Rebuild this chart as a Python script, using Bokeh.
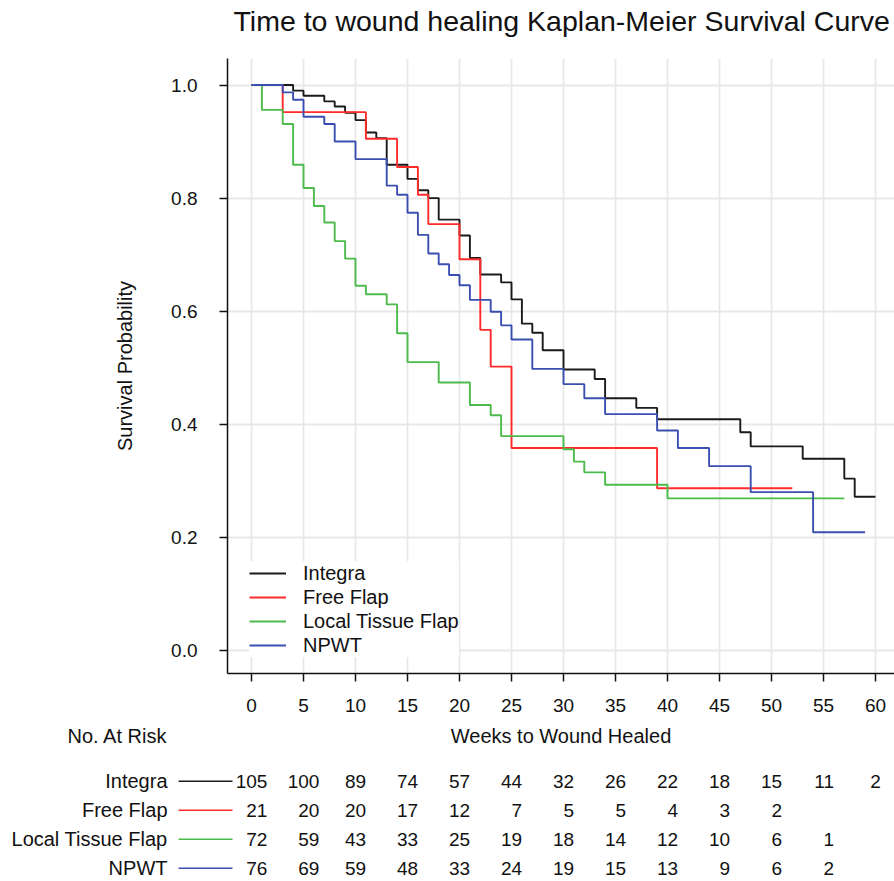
from bokeh.plotting import figure
from bokeh.layouts import column
from bokeh.models import FixedTicker, PrintfTickFormatter, Range1d
from bokeh.core.properties import value
from bokeh.embed import file_html
from bokeh.resources import INLINE

FONT = "Liberation Sans"
TXT = "#111111"

# ---------------- data ----------------
integra_weeks = [0, 4, 5, 7, 8, 9, 10, 11, 12, 13, 15, 16, 17, 18, 20, 21, 22, 24, 25, 26,
                 27, 28, 30, 33, 34, 37, 39, 47, 48, 53, 57, 58, 60]
integra_surv = [1.0, 0.990, 0.981, 0.971, 0.962, 0.951, 0.938, 0.916, 0.906, 0.859, 0.834,
                0.814, 0.800, 0.762, 0.734, 0.694, 0.665, 0.651, 0.621, 0.578, 0.562, 0.531,
                0.497, 0.480, 0.446, 0.429, 0.409, 0.386, 0.361, 0.339, 0.304, 0.272, 0.272]

free_weeks = [0, 3, 11, 14, 16, 17, 20, 22, 23, 25, 39, 52]
free_surv = [1.0, 0.952, 0.905, 0.855, 0.806, 0.754, 0.692, 0.567, 0.502, 0.358, 0.287, 0.287]

local_weeks = [0, 1, 3, 4, 5, 6, 7, 8, 9, 10, 11, 13, 14, 15, 18, 21, 23, 24, 30, 31, 32, 34, 40, 57]
local_surv = [1.0, 0.956, 0.931, 0.859, 0.818, 0.786, 0.757, 0.724, 0.693, 0.645, 0.630, 0.612,
              0.561, 0.510, 0.474, 0.434, 0.416, 0.379, 0.356, 0.334, 0.315, 0.293, 0.269, 0.269]

npwt_weeks = [0, 3, 4, 5, 7, 8, 10, 13, 14, 15, 16, 17, 18, 19, 20, 21, 23, 24, 25, 27, 30, 32,
              34, 39, 41, 44, 48, 54, 59]
npwt_surv = [1.0, 0.987, 0.974, 0.944, 0.931, 0.900, 0.869, 0.822, 0.806, 0.774, 0.735, 0.702,
             0.683, 0.664, 0.646, 0.620, 0.599, 0.575, 0.550, 0.498, 0.471, 0.446, 0.418, 0.389,
             0.358, 0.326, 0.280, 0.209, 0.209]

group_names = ["Integra", "Free Flap", "Local Tissue Flap", "NPWT"]
group_colors = ["#1A1A1A", "#FF2B2B", "#4CBB4C", "#3B4FB0"]

risk_weeks = [0, 5, 10, 15, 20, 25, 30, 35, 40, 45, 50, 55, 60]
risk_integra = [105, 100, 89, 74, 57, 44, 32, 26, 22, 18, 15, 11, 2]
risk_free = [21, 20, 20, 17, 12, 7, 5, 5, 4, 3, 2, None, None]
risk_local = [72, 59, 43, 33, 25, 19, 18, 14, 12, 10, 6, 1, None]
risk_npwt = [76, 69, 59, 48, 33, 24, 19, 15, 13, 9, 6, 2, None]

x_ticks = [0, 5, 10, 15, 20, 25, 30, 35, 40, 45, 50, 55, 60]
y_ticks = [0.0, 0.2, 0.4, 0.6, 0.8, 1.0]

title_text = "Time to wound healing Kaplan-Meier Survival Curve"

# ---------------- layout constants (pixels) ----------------
W = 894
H_TITLE = 58
H_MAIN = 724 - H_TITLE
H_TAB = 881 - 724
PX_PER_WEEK = 10.4
X0_PX = 251.0           # pixel of week 0
FRAME_LEFT = 227
FRAME_BOTTOM = 673 - H_TITLE
NUM_SIZE = "19px"       # digits
LBL_SIZE = "20px"       # word labels

def wk(px):
    return (px - X0_PX) / PX_PER_WEEK

def bare(fig):
    fig.outline_line_color = None
    fig.grid.visible = False
    fig.background_fill_color = "white"
    fig.border_fill_color = "white"
    fig.frame_align = False

# ---------------- title strip ----------------
tt = figure(width=W, height=H_TITLE, output_backend="svg", toolbar_location=None,
            x_range=Range1d(0, W), y_range=Range1d(H_TITLE, 0),
            x_axis_location=None, y_axis_location=None,
            min_border_left=0, min_border_right=0, min_border_top=0, min_border_bottom=0)
bare(tt)
tt.text(x=[233], y=[20], text=[title_text], text_align="left", text_baseline="alphabetic",
        text_font=value(FONT), text_font_size=value("28.5px"), text_color=TXT)

# ---------------- main figure ----------------
x_lo, x_hi = wk(FRAME_LEFT), wk(W)
p = figure(width=W, height=H_MAIN, output_backend="svg", toolbar_location=None,
           x_range=Range1d(x_lo, x_hi), y_range=Range1d(-0.0407, 1.0469),
           min_border_left=FRAME_LEFT, min_border_right=0, min_border_top=0,
           min_border_bottom=H_MAIN - FRAME_BOTTOM)
p.outline_line_color = None
p.background_fill_color = "white"
p.border_fill_color = "white"
p.frame_align = False

p.xaxis.ticker = FixedTicker(ticks=x_ticks)
p.yaxis.ticker = FixedTicker(ticks=y_ticks)
p.yaxis.formatter = PrintfTickFormatter(format="%.1f")
for ax in (p.xaxis[0], p.yaxis[0]):
    ax.axis_line_color = "#111111"
    ax.axis_line_width = 1.5
    ax.major_tick_line_color = "#111111"
    ax.major_tick_line_width = 1.5
    ax.major_tick_in = 0
    ax.major_tick_out = 8
    ax.minor_tick_line_color = None
    ax.major_label_text_font = FONT
    ax.major_label_text_font_size = NUM_SIZE
    ax.major_label_text_color = TXT
    ax.axis_label_text_font = FONT
    ax.axis_label_text_font_size = LBL_SIZE
    ax.axis_label_text_font_style = "normal"
    ax.axis_label_text_color = TXT
p.xaxis.major_label_standoff = 17
p.yaxis.axis_label = "Survival Probability"
p.yaxis.major_label_standoff = 22
p.yaxis.axis_label_standoff = 32

p.grid.grid_line_color = "#E8E8E8"
p.grid.grid_line_width = 1.8

curves = [(integra_weeks, integra_surv), (free_weeks, free_surv),
          (local_weeks, local_surv), (npwt_weeks, npwt_surv)]
for (wks, sv), name, col in zip(curves, group_names, group_colors):
    p.step(wks, sv, mode="after", line_color=col, line_width=1.9, legend_label=name)

lg = p.legend[0]
lg.location = (22, 16)
lg.padding = 12
lg.spacing = 0
lg.margin = 0
lg.label_height = 24
lg.glyph_height = 24
lg.glyph_width = 37
lg.label_standoff = 17
lg.label_text_font = FONT
lg.label_text_font_size = LBL_SIZE
lg.label_text_color = TXT
lg.border_line_color = None
lg.background_fill_color = "white"
lg.background_fill_alpha = 1.0

# ---------------- number-at-risk table (own figure, same pixel scale) ----------------
t = figure(width=W, height=H_TAB, output_backend="svg", toolbar_location=None,
           x_range=Range1d(wk(0), wk(W)), y_range=Range1d(H_TAB, 0),
           x_axis_location=None, y_axis_location=None,
           min_border_left=0, min_border_right=0, min_border_top=0, min_border_bottom=0)
bare(t)

hdr_y = 11.0
row_y0 = 56.7
row_pitch = 29.0
digit_px = 0.556 * 19
risk_rows = [risk_integra, risk_free, risk_local, risk_npwt]

xs, ys, txt, xoff = [], [], [], []
for ci, w in enumerate(risk_weeks):
    col_vals = [r[ci] for r in risk_rows if r[ci] is not None]
    wdt = max(len(str(v)) for v in col_vals)
    for ri, r in enumerate(risk_rows):
        if r[ci] is None:
            continue
        xs.append(w)
        ys.append(row_y0 + ri * row_pitch)
        txt.append(str(r[ci]))
        xoff.append(wdt * digit_px / 2.0)

num_style = dict(text_baseline="middle", text_font=value(FONT),
                 text_font_size=value(NUM_SIZE), text_color=TXT)
lbl_style = dict(text_baseline="middle", text_font=value(FONT),
                 text_font_size=value(LBL_SIZE), text_color=TXT)
t.text(x=xs, y=ys, text=txt, x_offset=xoff, text_align="right", **num_style)

label_x = wk(167)
row_ys = [row_y0 + i * row_pitch for i in range(len(group_names))]
t.text(x=[label_x] * len(group_names), y=row_ys, text=group_names, text_align="right",
       **lbl_style)
t.text(x=[label_x], y=[hdr_y], text=["No. At Risk"], text_align="right", **lbl_style)
t.text(x=[(x_lo + x_hi) / 2.0], y=[hdr_y], text=["Weeks to Wound Healed"],
       text_align="center", **lbl_style)
t.segment(x0=[wk(178)] * 4, y0=row_ys, x1=[wk(232)] * 4, y1=row_ys,
          line_color=group_colors, line_width=1.5)

open("out.html", "w").write(file_html(column(tt, p, t), INLINE))
